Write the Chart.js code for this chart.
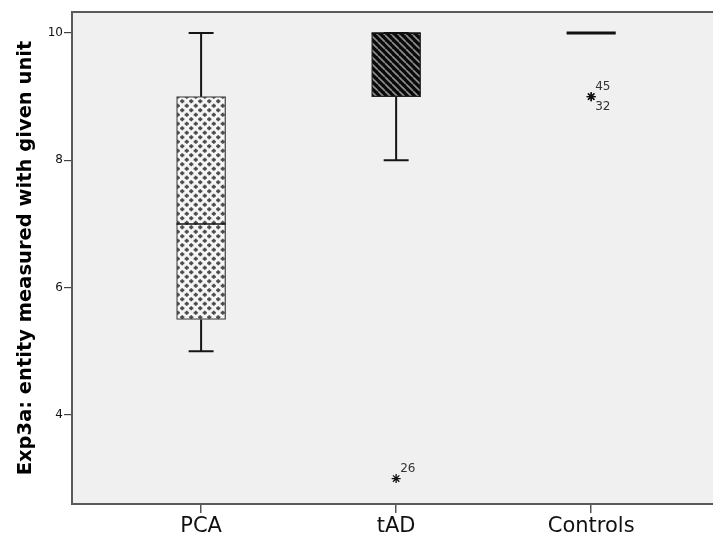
<!DOCTYPE html>
<html>
<head>
<meta charset="utf-8">
<script src="https://cdn.jsdelivr.net/npm/chart.js@4.4.0/dist/chart.umd.min.js"></script>
<style>
  html, body { margin: 0; padding: 0; background: #fff; }
  #wrap { width: 713px; height: 549px; }
</style>
</head>
<body>
<div id="wrap"><canvas id="boxChart"></canvas></div>
<script>
// --- values ---
const categories = ['PCA', 'tAD', 'Controls'];
const whiskerLow = [5, 8, 10];
const quartile1 = [5.5, 9, 10];
const medians = [7, 10, 10];
const quartile3 = [9, 10, 10];
const whiskerHigh = [10, 10, 10];
const outlierValues = [[], [3], [9, 9]];
const outlierLabels = [[], ['26'], ['45', '32']];
const yTicks = [4, 6, 8, 10];

const ctx = document.getElementById('boxChart').getContext('2d');
Chart.defaults.font.family = 'DejaVu Sans';

// fill patterns like the SPSS boxes
function crossPattern() {
    const c = document.createElement('canvas');
    c.width = 9; c.height = 9;
    const g = c.getContext('2d');
    g.fillStyle = '#f6f6f6';
    g.fillRect(0, 0, 9, 9);
    g.strokeStyle = '#4a4a4a';
    g.lineWidth = 1.8;
    [[2.25, 2.25], [6.75, 6.75]].forEach(([x, y]) => {
        g.beginPath();
        g.moveTo(x - 2.1, y); g.lineTo(x + 2.1, y);
        g.moveTo(x, y - 2.1); g.lineTo(x, y + 2.1);
        g.stroke();
    });
    return ctx.createPattern(c, 'repeat');
}

function stripePattern() {
    const c = document.createElement('canvas');
    c.width = 7; c.height = 7;
    const g = c.getContext('2d');
    g.fillStyle = '#0a0a0a';
    g.fillRect(0, 0, 7, 7);
    g.strokeStyle = '#8c8c8c';
    g.lineWidth = 1.7;
    [-7, 0, 7].forEach(x => {
        g.beginPath();
        g.moveTo(x, 0); g.lineTo(x + 7, 7);
        g.stroke();
    });
    return ctx.createPattern(c, 'repeat');
}

const boxHalf = 0.126; // half of box width, in category units
const capHalf = 0.064;

// whiskers + caps, broken up with null points
const whiskerPoints = [];
categories.forEach((c, i) => {
    const x = i + 1;
    whiskerPoints.push({ x: x, y: whiskerLow[i] }, { x: x, y: quartile1[i] }, { x: x, y: null });
    whiskerPoints.push({ x: x, y: quartile3[i] }, { x: x, y: whiskerHigh[i] }, { x: x, y: null });
    whiskerPoints.push({ x: x - capHalf, y: whiskerLow[i] }, { x: x + capHalf, y: whiskerLow[i] }, { x: x, y: null });
    whiskerPoints.push({ x: x - capHalf, y: whiskerHigh[i] }, { x: x + capHalf, y: whiskerHigh[i] }, { x: x, y: null });
});

const outlierPoints = [];
outlierValues.forEach((vals, i) => {
    vals.forEach(v => outlierPoints.push({ x: i + 1, y: v }));
});

const medianSets = categories.map((c, i) => ({
    type: 'line',
    data: [{ x: i + 1 - boxHalf, y: medians[i] }, { x: i + 1 + boxHalf, y: medians[i] }],
    borderColor: '#111',
    borderWidth: quartile1[i] === quartile3[i] ? 3 : 1.5,
    pointRadius: 0,
    order: 1
}));

const plotFrame = {
    id: 'plotFrame',
    beforeDraw(chart) {
        const a = chart.chartArea;
        const c = chart.ctx;
        c.save();
        c.fillStyle = '#f0f0f0';
        c.fillRect(a.left, a.top, chart.width - a.left, a.bottom - a.top);
        c.restore();
    },
    beforeDatasetsDraw(chart) {
        const a = chart.chartArea;
        const c = chart.ctx;
        c.save();
        c.strokeStyle = '#5a5a5a';
        c.lineWidth = 2;
        c.strokeRect(a.left, a.top, chart.width + 20 - a.left, a.bottom - a.top);
        c.restore();
    }
};

// case numbers next to the extreme points
const caseLabels = {
    id: 'caseLabels',
    afterDatasetsDraw(chart) {
        const c = chart.ctx;
        const xs = chart.scales.x, ys = chart.scales.y;
        c.save();
        c.font = '12px "DejaVu Sans"';
        c.fillStyle = '#333';
        c.textBaseline = 'middle';
        c.textAlign = 'left';
        outlierValues.forEach((vals, i) => {
            vals.forEach((v, j) => {
                const px = xs.getPixelForValue(i + 1) + 4;
                const py = ys.getPixelForValue(v);
                const dy = (vals.length > 1 && j === 1) ? 10 : -10;
                c.fillText(outlierLabels[i][j], px, py + dy);
            });
        });
        c.restore();
    }
};

new Chart(ctx, {
    type: 'bar',
    data: {
        datasets: [
            {
                type: 'bar',
                data: categories.map((c, i) => ({ x: i + 1, y: [quartile1[i], quartile3[i]] })),
                backgroundColor: [crossPattern(), stripePattern(), 'rgba(0,0,0,0)'],
                borderColor: ['#444', '#222', '#222'],
                borderWidth: 1.3,
                borderSkipped: false,
                barThickness: 49,
                grouped: false,
                order: 3
            },
            {
                type: 'line',
                data: whiskerPoints,
                borderColor: '#151515',
                borderWidth: 2,
                pointRadius: 0,
                spanGaps: false,
                order: 2
            },
            ...medianSets,
            {
                type: 'line',
                data: outlierPoints,
                showLine: false,
                pointStyle: 'star',
                pointRadius: 4.5,
                borderColor: '#111',
                borderWidth: 1.3,
                order: 0
            }
        ]
    },
    options: {
        responsive: true,
        maintainAspectRatio: false,
        animation: false,
        layout: { padding: { top: 12, right: 0, bottom: 0, left: 0 } },
        plugins: {
            legend: { display: false },
            tooltip: { enabled: false }
        },
        scales: {
            x: {
                type: 'linear',
                offset: false,
                min: 0.338,
                max: 3.595,
                afterBuildTicks: s => { s.ticks = categories.map((c, i) => ({ value: i + 1 })); },
                afterFit: s => { s.height = 45; },
                ticks: {
                    callback: v => categories[v - 1],
                    font: { size: 21 },
                    color: '#111',
                    padding: 1,
                    maxRotation: 0,
                    autoSkip: false
                },
                grid: { offset: false, drawOnChartArea: false, tickLength: 9, color: '#555', lineWidth: 1.5 },
                border: { display: false }
            },
            y: {
                min: 2.6,
                max: 10.33,
                afterBuildTicks: s => { s.ticks = yTicks.map(v => ({ value: v })); },
                afterFit: s => { s.width = 72; },
                ticks: { font: { size: 12 }, color: '#111', padding: 1 },
                grid: { drawOnChartArea: false, tickLength: 8, color: '#444', lineWidth: 1.2 },
                border: { display: false },
                title: {
                    display: true,
                    text: 'Exp3a: entity measured with given unit',
                    font: { size: 19.5, weight: 'bold' },
                    color: '#000',
                    padding: { top: 14, bottom: 0 }
                }
            }
        }
    },
    plugins: [plotFrame, caseLabels]
});
</script>
</body>
</html>
